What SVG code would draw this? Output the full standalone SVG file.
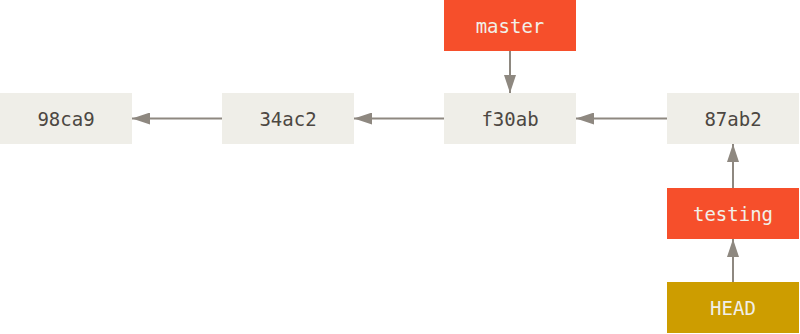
<svg xmlns="http://www.w3.org/2000/svg" width="800" height="334" viewBox="0 0 800 334">
<style>
.commit rect{fill:#efeee8}
.branch rect{fill:#f64f2b}
.head rect{fill:#cd9d00}
text{font-family:"DejaVu Sans Mono",monospace;font-size:19px;text-anchor:middle}
.commit text{fill:#4c4742}
.branch text,.head text{fill:#f1efe8}
.conn line{stroke:#8e8880;stroke-width:2}
</style>
<defs>
<marker id="ah" viewBox="0 0 18 12" refX="18" refY="6" markerWidth="18" markerHeight="12" markerUnits="userSpaceOnUse" orient="auto">
<path d="M0,0 L18,6 L0,12 Z" fill="#8e8880"/>
</marker>
</defs>
<g class="conn">
<line x1="222" y1="118.5" x2="132" y2="118.5" marker-end="url(#ah)"/>
<line x1="444" y1="118.5" x2="354" y2="118.5" marker-end="url(#ah)"/>
<line x1="667" y1="118.5" x2="576" y2="118.5" marker-end="url(#ah)"/>
<line x1="510" y1="51" x2="510" y2="93" marker-end="url(#ah)"/>
<line x1="733" y1="188" x2="733" y2="144" marker-end="url(#ah)"/>
<line x1="733" y1="282" x2="733" y2="239" marker-end="url(#ah)"/>
</g>
<g id="c98ca9" class="commit"><rect x="0" y="93" width="132" height="51"/><text x="66" y="126">98ca9</text></g>
<g id="c34ac2" class="commit"><rect x="222" y="93" width="132" height="51"/><text x="288" y="126">34ac2</text></g>
<g id="cf30ab" class="commit"><rect x="444" y="93" width="132" height="51"/><text x="510" y="126">f30ab</text></g>
<g id="c87ab2" class="commit"><rect x="667" y="93" width="132" height="51"/><text x="733" y="126">87ab2</text></g>
<g id="master" class="branch"><rect x="444" y="0" width="132" height="51"/><text x="510" y="32.5">master</text></g>
<g id="testing" class="branch"><rect x="667" y="188" width="132" height="51"/><text x="733" y="221">testing</text></g>
<g id="HEAD" class="head"><rect x="667" y="282" width="132" height="51"/><text x="733" y="315">HEAD</text></g>
</svg>
